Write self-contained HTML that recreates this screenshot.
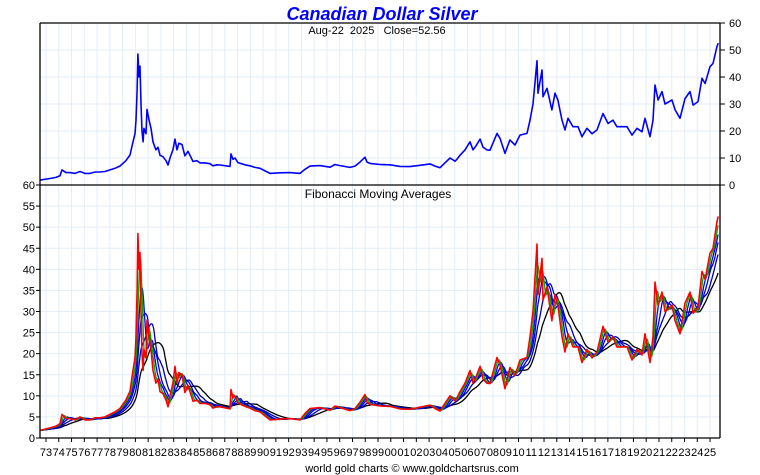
<!DOCTYPE html>
<html><head><meta charset="utf-8"><style>
body{margin:0;background:#fff;}
svg{display:block;font-family:"Liberation Sans",sans-serif;}
</style></head><body>
<svg id="chart" width="760" height="475" viewBox="0 0 760 475" xmlns="http://www.w3.org/2000/svg">
<g id="grid"></g><g id="marks"></g><g id="axes"></g>
<text x="382" y="20" text-anchor="middle" font-size="18" font-weight="bold" font-style="italic" fill="#0000ff">Canadian Dollar Silver</text>
<text x="377" y="34" text-anchor="middle" font-size="11" fill="#000" xml:space="preserve">Aug-22  2025   Close=52.56</text>
<text x="378" y="198" text-anchor="middle" font-size="12" fill="#000">Fibonacci Moving Averages</text>
<text x="412" y="472" text-anchor="middle" font-size="11" fill="#000">world gold charts © www.goldchartsrus.com</text>
</svg>
<script>
const years = [1972.53,1973.31,1973.78,1974.10,1974.25,1974.57,1974.88,1975.27,1975.66,1976.05,1976.45,1976.84,1977.23,1977.62,1978.01,1978.40,1978.79,1979.26,1979.58,1979.81,1979.97,1980.05,1980.13,1980.20,1980.28,1980.36,1980.44,1980.52,1980.60,1980.67,1980.83,1980.91,1981.07,1981.22,1981.38,1981.61,1981.77,1981.93,1982.16,1982.40,1982.55,1982.71,1982.94,1983.10,1983.26,1983.41,1983.65,1983.88,1984.12,1984.28,1984.51,1984.82,1985.06,1985.45,1985.84,1986.08,1986.39,1986.63,1987.41,1987.49,1987.64,1987.80,1988.03,1988.58,1988.97,1989.37,1989.76,1990.54,1991.32,1992.11,1992.89,1993.28,1993.67,1994.45,1995.24,1995.63,1996.02,1996.80,1997.20,1997.59,1997.98,1998.14,1998.37,1999.15,1999.94,2000.72,2001.50,2002.29,2003.07,2003.46,2003.85,2004.24,2004.64,2005.03,2005.18,2005.42,2005.81,2006.20,2006.44,2006.67,2006.99,2007.22,2007.53,2007.77,2008.32,2008.55,2008.94,2009.33,2009.73,2010.12,2010.67,2010.90,2011.14,2011.45,2011.53,2011.84,2011.92,2012.23,2012.62,2012.86,2013.09,2013.41,2013.64,2013.88,2014.27,2014.66,2014.97,2015.36,2015.76,2016.15,2016.62,2017.01,2017.40,2017.71,2018.50,2018.89,2019.28,2019.67,2019.91,2020.30,2020.53,2020.69,2020.93,2021.24,2021.47,2022.02,2022.26,2022.65,2023.04,2023.43,2023.67,2024.06,2024.37,2024.61,2025.00,2025.23,2025.54,2025.64];
const prices = [1.8,2.4,2.8,3.4,5.6,4.6,4.6,4.3,5.0,4.3,4.3,4.8,4.8,5.0,5.6,6.2,7.0,9.0,11.1,16,19,24,35,48.5,40,44,30,20,16,21,19,28,24,21,16,13,14,11,10.5,9,7.4,10,13,17,13,15.5,15,10.8,12.5,11,8.7,9,8.2,8.2,7.9,7.1,7.5,7.4,6.9,11.5,9.5,10,8.3,7.5,7.1,6.5,6.2,4.3,4.5,4.6,4.3,5.8,7.0,7.2,6.6,7.6,7.2,6.5,7,8.5,10.3,8.5,8.0,7.6,7.5,6.9,6.8,7.3,7.8,7.0,6.4,8.2,10.0,8.8,9.5,11,13,16,13,14.5,17,14,13,12.9,19.1,17.3,11.7,16.7,14.8,18.5,19.1,24,30,46,34,42.6,32.7,35.8,27.8,34,31.5,24,20.4,24.7,21.6,21.6,17.9,21,19,20.4,26.5,22.8,24,21.6,21.6,18.5,21,19.7,24.7,17.9,24,37,31.5,34.6,30,31.5,27.8,24.7,32,34.6,29.6,30.9,39.5,37.6,43.8,45,51.2,52.56];
const topTicks = [0,10,20,30,40,50,60];
const lowTicks = [0,5,10,15,20,25,30,35,40,45,50,55,60];
const yearLabels = ["73","74","75","76","77","78","79","80","81","82","83","84","85","86","87","88","89","90","91","92","93","94","95","96","97","98","99","00","01","02","03","04","05","06","07","08","09","10","11","12","13","14","15","16","17","18","19","20","21","22","23","24","25"];
const maWindows = [0.25,0.5,0.8,1.3,2.1];
const maColors = ["#00aa00","#0000ff","#0000cc","#0000aa","#000000"];

const NS="http://www.w3.org/2000/svg";
const L=40,R=720,T1=23,B1=185,B2=438;
const xOf=y=>46+(y-1973)*12.77;
const yTop=v=>B1-(v/60)*(B1-T1);
const yLow=v=>B2-(v/60)*(B2-B1);
function mk(tag,attrs,parent){const e=document.createElementNS(NS,tag);for(const k in attrs)e.setAttribute(k,attrs[k]);parent.appendChild(e);return e;}
const grid=document.getElementById('grid'),marks=document.getElementById('marks'),axes=document.getElementById('axes');

yearLabels.forEach((lab,i)=>{const x=xOf(1973+i);
 const g=mk('line',{x1:x,x2:x,y1:T1,y2:B2,stroke:'#e3eef8','stroke-width':1},grid);
 
 
 const t=mk('text',{x:x,y:456,'text-anchor':'middle','font-size':11,fill:'#000'},axes);t.textContent=lab;
 
 
 const tk=mk('line',{x1:x,x2:x,y1:B2,y2:B2+4,stroke:'#000'},axes);
 
 
});
topTicks.forEach(v=>{const y=yTop(v);
 const g=mk('line',{x1:L,x2:R,y1:y,y2:y,stroke:'#e3eef8'},grid);
 
 
 const tk=mk('line',{x1:R,x2:R+5,y1:y,y2:y,stroke:'#000'},axes);
 
 
 const t=mk('text',{x:R+9,y:y+4,'font-size':11,fill:'#000'},axes);t.textContent=v;
 
 
});
lowTicks.forEach(v=>{const y=yLow(v);
 const g=mk('line',{x1:L,x2:R,y1:y,y2:y,stroke:'#e3eef8'},grid);
 
 
 const tk=mk('line',{x1:L-4,x2:L,y1:y,y2:y,stroke:'#000'},axes);
 
 
 const t=mk('text',{x:L-5,y:y+4,'text-anchor':'end','font-size':11,fill:'#000'},axes);t.textContent=v;
 
 
});

let pts=years.map((y,i)=>xOf(y).toFixed(1)+','+yTop(prices[i]).toFixed(1)).join(' ');
const tl=mk('polyline',{points:pts,fill:'none',stroke:'#0000ff','stroke-width':1.6,'stroke-linejoin':'round'},marks);



const step=0.02,rs=[],rv=[];
for(let t=years[0];t<=years[years.length-1]+1e-9;t+=step){
 let j=0;while(j<years.length-2&&years[j+1]<t)j++;
 const f=Math.max(0,Math.min(1,(t-years[j])/(years[j+1]-years[j])));
 rs.push(t);rv.push(prices[j]+(prices[j+1]-prices[j])*f);
}
for(let w=maWindows.length-1;w>=0;w--){
 const n=Math.max(1,Math.round(maWindows[w]/step));let s=0;const out=[];
 for(let i=0;i<rv.length;i++){s+=rv[i];if(i>=n)s-=rv[i-n];out.push(s/Math.min(i+1,n));}
 const p=rs.map((t,i)=>xOf(t).toFixed(1)+','+yLow(out[i]).toFixed(1)).join(' ');
 const ml=mk('polyline',{points:p,fill:'none',stroke:maColors[w],'stroke-width':1.3},marks);
 
 
}
pts=years.map((y,i)=>xOf(y).toFixed(1)+','+yLow(prices[i]).toFixed(1)).join(' ');
const rl=mk('polyline',{points:pts,fill:'none',stroke:'#ff0000','stroke-width':1.6,'stroke-linejoin':'round'},marks);



const fr=[[L,T1,R,T1],[L,T1,L,B2],[R,T1,R,B2],[L,B1,R,B1],[L,B2,R,B2]];
fr.forEach(a=>{const f=mk('line',{x1:a[0],y1:a[1],x2:a[2],y2:a[3],stroke:'#000','stroke-width':1.3},axes);
 
 });
</script>
</body></html>
